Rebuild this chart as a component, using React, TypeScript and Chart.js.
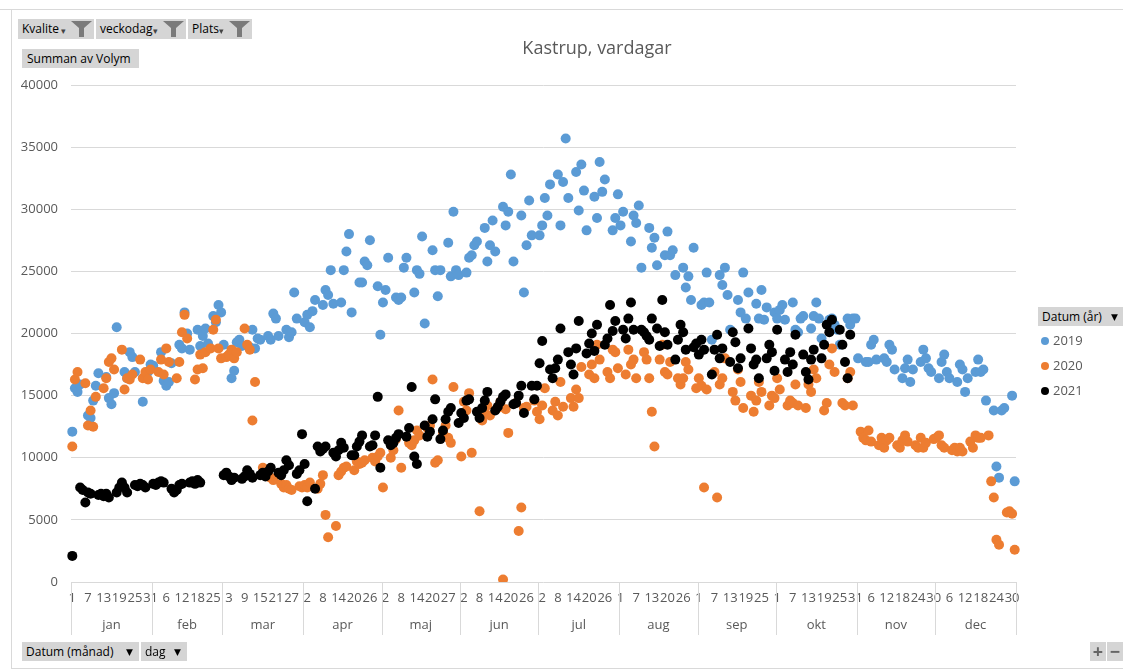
import React, { useEffect, useRef } from "react";
import { Chart, registerables } from "chart.js";

Chart.register(...registerables);

// ---------- categories (month / day) ----------
const MONTHS = ["jan", "feb", "mar", "apr", "maj", "jun", "jul", "aug", "sep", "okt", "nov", "dec"];
const MONTH_DAYS = [31, 28, 31, 30, 31, 30, 31, 31, 30, 31, 30, 31];
// dates (month 1-based, day) with no data in any year -> not a category
const MISSING_DATES = [[2, 23], [5, 23], [8, 15]];
const TICK_EVERY = 6;
const Y_MAX = 40000;
const Y_STEP = 5000;

const YEARS = [2019, 2020, 2021];
const COLORS = ["#5B9BD5", "#ED7D31", "#000000"];

// ---------- values per month, one value per weekday (in date order) ----------
const v2019: (number | null)[][] = [
  [12100, 15600, 15300, 15900, 13400, 13200, 14600, 15800, 16800, 16500, 14800, 14300, 15200, 20500, 16900, 16400, 18500, 18100, 16900, 14500, 16600, 16900, 17500],
  [17400, 18500, 16200, 15800, 16100, 17600, 19100, 18800, 21700, 20000, 18700, 20300, 19000, 19800, 20400, 19200, 21400, 20900, 22300, 21700],
  [19100, 16400, 17000, 19300, 19500, 19000, 18900, 20300, 18800, 19600, 19500, 19800, 19500, 21600, 21200, 19800, 20300, 19700, 20100, 23300, 21200],
  [20900, 21500, 20500, 21800, 22700, 22300, 23500, 23100, 25100, 22400, 22500, 25100, 26600, 28000, 21700, 24100, 24100, 25800, 25500, 27500, 23800, 19900],
  [22500, 23500, 26100, 22900, 22700, 22900, 25300, 26100, 23300, 25100, 24800, 27800, 20800, 26700, 25100, 23000, 25100, 27300, 24600, 29800, 25100, 24700],
  [24900, 26100, 26300, 27100, 27400, 28500, 25800, 27100, 29100, 26600, 30200, 28700, 29800, 32800, 25800, 29500, 23300, 27100, 30700, 27900],
  [27900, 28700, 30900, 29500, 32000, 32800, 28700, 32200, 35700, 30900, 33000, 29900, 33600, 31500, 28300, 31000, 29300, 33800, 31400, 32400, 28300, 29300, 31200],
  [28700, 29800, 27400, 29500, 28900, 30300, 25300, 28500, 26900, 27700, 25500, 26300, 28200, 26300, 26700, 24700, 25300, 23700, 24600, 22700, 26900],
  [22300, 22500, 24900, 22500, 19500, 24700, 23900, 25300, 23100, 20300, 22700, 21700, 24900, 21200, 23300, 22400, 21200, 23500, 21100, 22100, 21700],
  [21200, 21900, 22300, 21100, 22500, 20300, 20100, 21200, 21400, 20400, 21400, 22500, 21200, 19600, 21100, 21200, 20700, 20300, 19100, 21200, 20700, 21200, 21200],
  [18000, 17700, 17700, 19100, 19500, 17900, 18000, 17700, 19100, 18700, 17100, 16400, 17200, 17900, 16100, 17100, 17700, 18700, 18000, 17200, 16900],
  [16400, 17700, 18300, 16900, 16400, 16100, 17500, 17100, 15300, 16400, 16900, 17900, 16900, 17100, 14600, 13800, 9300, 8400, 13800, 14000, 15000, 8100],
];

const v2020: (number | null)[][] = [
  [10900, 16300, 16900, 16000, 12600, 13800, 12500, 14900, 15600, 16400, 17700, 18000, 17100, 18700, 15500, 16400, 16300, 16700, 17900, 16400, 16900, 16300, 17100],
  [16900, 17900, 16700, 18800, 17700, 16400, 17700, 20100, 21500, 19600, 16300, 17100, 18300, 17200, 18500, 18800, 20300, 21100, 18800, 18000],
  [18100, 18300, 18700, 18000, 18500, 20400, 19100, 18700, 13000, 16100, 9200, 9000, 8800, 8400, 8200, 7900, 7600, 7800, 7500, 7400, 7700, 7600],
  [7800, 7600, 8000, 7500, 7900, 8600, 5400, 3600, 4500, 8600, 8900, 9200, 9300, 9000, 9700, 9500, 9600, 9800, 10000, 9700, 10100, 10400],
  [7600, 10000, 10600, 11500, 13800, 9200, 11200, 11000, 11400, 12200, 11800, 12400, 12600, 16300, 9600, 9800, 12000, 12600, 11600, 11200, 15700],
  [10100, 14500, 13800, 15200, 10400, 5700, 13000, 13600, 14200, 13400, 14000, 14500, 200, 13900, 12000, 14400, 4100, 6000, 14000, 14100, 14600, 13700],
  [13100, 14200, 15600, 13800, 14500, 13400, 16100, 14100, 14800, 14100, 15500, 14800, 17300, 16700, 17500, 16400, 19100, 17900, 16900, 16400, 18700, 18500, 17200],
  [16700, 18700, 17500, 17900, 16400, 18500, 17900, 16400, 13700, 10900, 17900, 19100, 16900, 16700, 17700, 16400, 15900, 16400, 17700, 17100, 15600],
  [16400, 15800, 7600, 15500, 16900, 6800, 15900, 16400, 18000, 15300, 14600, 17100, 16100, 14000, 15000, 13700, 14600, 16100, 15300, 14200, 15000, 14800],
  [16400, 15500, 14200, 14600, 14400, 15900, 14200, 14000, 15900, 15300, 17100, 16400, 13800, 14400, 17500, 18800, 16900, 14400, 14200, 16400, 16900, 14200],
  [12100, 11600, 11400, 12200, 11300, 11000, 11600, 10800, 11400, 11600, 11000, 10800, 11400, 11800, 11300, 11000, 10800, 11600, 10800, 11200, 11500],
  [11600, 11800, 11000, 10800, 10600, 10800, 10500, 10800, 10500, 11300, 10800, 11800, 11600, 11600, 11800, 8100, 6800, 3400, 3000, 5600, 5700, 5500, 2600],
];

const v2021: (number | null)[][] = [
  [2100, 7600, 7400, 6400, 7200, 7100, 7000, 7100, 6900, 7100, 6800, 7200, 7600, 8000, 7600, 7200, 7800, 7700, 7900, 7800, 7600],
  [7900, 7800, 8000, 8100, 8000, 7500, 7200, 7400, 7800, 7900, 8000, 8100, 7900, 8200, 8000, null, null, null, null],
  [8600, 8800, 8500, 8200, 8400, 8300, 8500, 9000, 8700, 8400, 8600, 8800, 8500, 8900, 9200, 8800, 8600, 9000, 9800, 9400, 8700, 9000, 11900],
  [9500, 6500, 7500, 10900, 10500, 10700, 10900, 10400, 10100, 10600, 11200, 10800, 10200, 10200, 10900, 11300, 11800, 10900, 11000, 11800, 14900, 9200],
  [11400, 11000, 11200, 11600, 11900, 11700, 12400, 15700, 10100, 9500, 12600, 11700, 12100, 13100, 14700, 11500, 12200, 13100, 13700, 14000, 12800],
  [13600, 13200, 14600, 14700, 13700, 13200, 14000, 14600, 15300, 13800, 14100, 14500, 14900, 15100, 14300, 14400, 15000, 15800, 13600, 15800, 14700, 15800],
  [17600, 19400, 17100, 16400, 17200, 17900, 20400, 18500, 17500, 16700, 18800, 21000, 18400, 19200, 20000, 18600, 20700, 19100, 19600, 22300, 20200, 21000],
  [20300, 19600, 21200, 22500, 20300, 20300, 20100, 19800, 19500, 21200, 20400, 19000, 22700, 20100, 19100, 17900, 19500, 20700, 20100, 18700, 18900, 19200],
  [18300, 19500, 18700, 16700, 18700, 19900, 18000, 18800, 17700, 20100, 19300, 17200, 18000, 20400, 18800, 17500, 17900, 16400, 18000, 19100, 18500, 17000],
  [20300, 17900, 16900, 18500, 17500, 19900, 18300, 16900, 16300, 17900, 18700, 18000, 19100, 20700, 20100, 21100, 20300, 19100, 17700, 16400, 19900],
  [],
  [],
];

const YEAR_VALUES = [v2019, v2020, v2021];

// ---------- build category list ----------
const catMonth: number[] = [];
const catDay: number[] = [];
MONTH_DAYS.forEach((n, m) => {
  for (let d = 1; d <= n; d++) {
    if (MISSING_DATES.some(([mm, dd]) => mm === m + 1 && dd === d)) continue;
    catMonth.push(m);
    catDay.push(d);
  }
});
const labels = catDay.map(String);

function seriesFor(year: number, values: (number | null)[][]): (number | null)[] {
  const cursor = new Array(12).fill(0);
  return catMonth.map((m, i) => {
    const wd = new Date(year, m, catDay[i]).getDay();
    if (wd === 0 || wd === 6) return null;
    const arr = values[m] || [];
    if (cursor[m] >= arr.length) return null;
    const v = arr[cursor[m]];
    cursor[m]++;
    return v;
  });
}

const FONT = '"Open Sans", "DejaVu Sans", sans-serif';
const TEXT = "#595959";
const GRID = "#D9D9D9";

const monthAxisPlugin = {
  id: "monthAxis",
  afterDraw(chart: any) {
    const xs = chart.scales.x;
    const ctx = chart.ctx;
    const bottom = chart.chartArea.bottom;
    const w = xs.getPixelForValue(1) - xs.getPixelForValue(0);
    ctx.save();
    ctx.strokeStyle = GRID;
    ctx.lineWidth = 1;
    ctx.fillStyle = TEXT;
    ctx.font = `13px ${FONT}`;
    ctx.textAlign = "center";
    ctx.textBaseline = "middle";
    let start = 0;
    MONTHS.forEach((name, m) => {
      const count = catMonth.filter((mm) => mm === m).length;
      const left = xs.getPixelForValue(start) - w / 2;
      const right = xs.getPixelForValue(start + count - 1) + w / 2;
      const lines = m === 0 ? [left, right] : [right];
      lines.forEach((lx) => {
        const px = Math.round(lx) + 0.5;
        ctx.beginPath();
        ctx.moveTo(px, bottom);
        ctx.lineTo(px, bottom + 53);
        ctx.stroke();
      });
      ctx.fillText(name, (left + right) / 2, bottom + 43);
      start += count;
    });
    ctx.restore();
  },
};

const btn: React.CSSProperties = {
  position: "absolute",
  background: "#D5D5D5",
  fontFamily: FONT,
  fontSize: 12,
  color: "#000",
  height: 19,
  lineHeight: "19px",
  boxSizing: "border-box",
  paddingLeft: 4,
  whiteSpace: "nowrap",
};

function Funnel() {
  return (
    <svg width="32" height="18" style={{ position: "absolute", right: 1, top: 1 }}>
      <text x="0" y="14" fontSize="9" fill="#444">▾</text>
      <polygon points="10,1 31,1 23,8 23,17 18,17 18,8" fill="#7A7A7A" />
    </svg>
  );
}

export default function App() {
  const ref = useRef<HTMLCanvasElement | null>(null);

  useEffect(() => {
    if (!ref.current) return;
    const datasets = YEARS.map((y, k) => ({
      label: String(y),
      data: seriesFor(y, YEAR_VALUES[k]),
      showLine: false,
      pointRadius: 5,
      pointHoverRadius: 5,
      pointBackgroundColor: COLORS[k],
      pointBorderColor: COLORS[k],
      pointBorderWidth: 0,
      backgroundColor: COLORS[k],
      borderColor: COLORS[k],
      order: YEARS.length - 1 - k,
    }));
    const chart = new Chart(ref.current, {
      type: "line",
      data: { labels, datasets },
      options: {
        animation: false,
        responsive: false,
        devicePixelRatio: 1,
        layout: { padding: { top: 85, right: 107, left: 0, bottom: 0 } },
        plugins: { legend: { display: false }, title: { display: false }, tooltip: { enabled: false } },
        scales: {
          x: {
            type: "category",
            offset: true,
            grid: { display: false, drawTicks: false },
            border: { display: false },
            ticks: {
              autoSkip: false,
              maxRotation: 0,
              minRotation: 0,
              padding: 8,
              color: TEXT,
              font: { family: FONT, size: 13 },
              callback: (_v: any, i: number) => (i % TICK_EVERY === 0 ? labels[i] : ""),
            },
            afterFit: (s: any) => {
              s.height = 89;
            },
          },
          y: {
            min: 0,
            max: Y_MAX,
            grid: { color: GRID, drawTicks: false },
            border: { display: false },
            ticks: {
              stepSize: Y_STEP,
              padding: 13,
              color: TEXT,
              font: { family: FONT, size: 13 },
              callback: (v: any) => String(v),
            },
            afterFit: (s: any) => {
              s.width = 71;
            },
          },
        },
      },
      plugins: [monthAxisPlugin],
    });
    return () => chart.destroy();
  }, []);

  return (
    <div style={{ position: "absolute", left: 0, top: 0, width: 1123, height: 671, overflow: "hidden", background: "#fff" }}>
      <canvas ref={ref} width={1123} height={671} style={{ position: "absolute", left: 0, top: 0 }} />
      {/* frame */}
      <div style={{ position: "absolute", left: 0, top: 9, width: 1123, height: 1, background: GRID }} />
      <div style={{ position: "absolute", left: 11, top: 9, width: 1, height: 659, background: GRID }} />
      <div style={{ position: "absolute", left: 11, top: 668, width: 1112, height: 1, background: GRID }} />
      {/* title */}
      <div style={{ position: "absolute", left: 597, top: 35, transform: "translateX(-50%)", fontFamily: FONT, fontSize: 18, color: TEXT, whiteSpace: "nowrap" }}>
        Kastrup, vardagar
      </div>
      {/* filter buttons */}
      <div style={{ ...btn, left: 18, top: 19, width: 76, height: 20 }}>Kvalite<Funnel /></div>
      <div style={{ ...btn, left: 96, top: 19, width: 90, height: 20 }}>veckodag<Funnel /></div>
      <div style={{ ...btn, left: 188, top: 19, width: 64, height: 20 }}>Plats<Funnel /></div>
      <div style={{ ...btn, left: 22, top: 49, width: 117, paddingLeft: 5 }}>Summan av Volym</div>
      {/* axis buttons */}
      <div style={{ ...btn, left: 22, top: 642, width: 117 }}>
        Datum (månad)<span style={{ position: "absolute", right: 6, fontSize: 9 }}>▼</span>
      </div>
      <div style={{ ...btn, left: 141, top: 642, width: 46 }}>
        dag<span style={{ position: "absolute", right: 6, fontSize: 9 }}>▼</span>
      </div>
      {/* legend */}
      <div style={{ ...btn, left: 1038, top: 307, width: 90 }}>
        Datum (år)<span style={{ position: "absolute", right: 10, fontSize: 9 }}>▼</span>
      </div>
      {YEARS.map((y, k) => (
        <div key={y} style={{ position: "absolute", left: 1041, top: 331 + k * 25, height: 18, lineHeight: "18px", fontFamily: FONT, fontSize: 13, color: TEXT, whiteSpace: "nowrap" }}>
          <span style={{ display: "inline-block", width: 8, height: 8, borderRadius: 4, background: COLORS[k], marginRight: 4, verticalAlign: "middle", position: "relative", top: -1 }} />
          {y}
        </div>
      ))}
      {/* +/- */}
      <div style={{ ...btn, left: 1090, top: 642, width: 16, paddingLeft: 0, textAlign: "center", fontSize: 18, color: "#666", fontWeight: 700 }}>+</div>
      <div style={{ ...btn, left: 1107, top: 642, width: 16, paddingLeft: 0, textAlign: "center", fontSize: 18, color: "#666", fontWeight: 700 }}>−</div>
    </div>
  );
}
